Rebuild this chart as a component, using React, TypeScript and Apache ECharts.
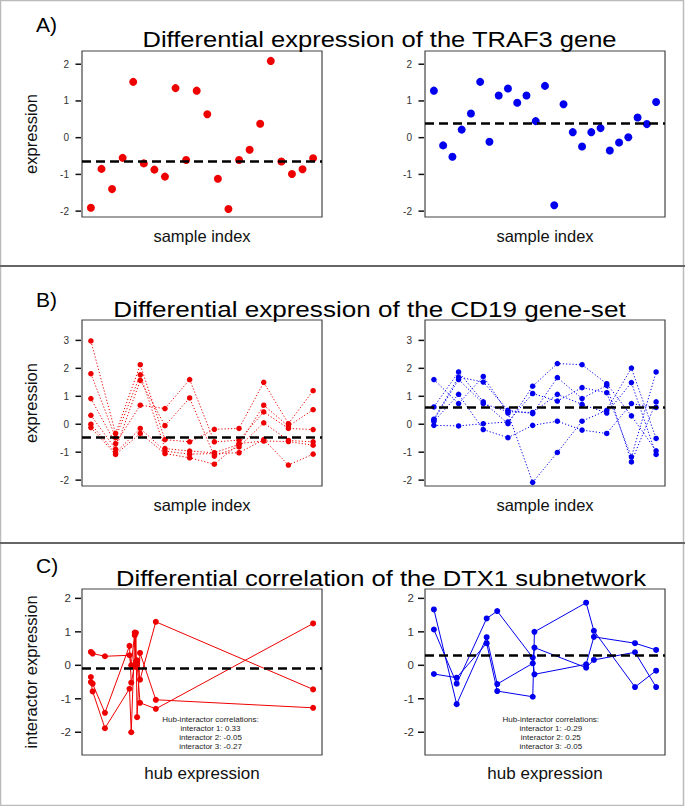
import React, { useEffect, useRef } from 'react';
import * as echarts from 'echarts';

// ---- Panel A: TRAF3 gene expression (normal / tumour) ----
const traf3Left = [-1.91, -0.85, -1.4, -0.55, 1.52, -0.7, -0.87, -1.06, 1.35, -0.61, 1.28, 0.64, -1.12, -1.94, -0.61, -0.33, 0.38, 2.09, -0.65, -0.99, -0.86, -0.56];
const traf3Right = [1.28, -0.21, -0.52, 0.22, 0.66, 1.52, -0.11, 1.15, 1.34, 0.95, 1.15, 0.45, 1.41, -1.84, 0.91, 0.15, -0.24, 0.15, 0.26, -0.35, -0.13, 0.01, 0.55, 0.37, 0.97];
const traf3Means = [-0.63, 0.38];

// ---- Panel B: CD19 gene-set (6 genes x 10 samples) ----
const cd19Left = [
  [2.98, -0.33, 2.13, -0.55, -0.63, -0.18, -0.15, 1.5, 0.02, 1.2],
  [1.81, -0.48, 1.77, -0.87, -0.96, -1.02, -0.72, 0.68, -0.07, 0.52],
  [0.92, -0.69, 0.68, 0.56, 1.6, -0.63, -0.57, 0.44, -0.15, -0.19],
  [0.32, -0.89, 1.57, -0.05, 0.94, -1.14, -0.81, 0.05, -0.58, -0.63],
  [0.0, -1.02, -0.15, -0.96, -1.07, -1.05, -1.02, -0.55, -1.46, -1.07],
  [-0.12, -1.08, -0.33, -1.05, -1.2, -1.43, -0.69, -0.6, -0.62, -0.75],
];
const cd19Right = [
  [1.6, 0.74, 1.71, 0.4, -2.08, -1.01, 0.11, 0.5, 2.01, -0.51],
  [0.62, 1.87, 0.8, 0.02, 1.36, 2.17, 2.13, 1.45, 0.3, -0.95],
  [0.18, 1.69, 1.51, 0.5, 0.38, 1.67, 0.92, 1.39, -1.35, 0.8],
  [0.1, 1.07, -0.19, -0.48, -0.04, 0.11, -0.21, -0.33, 0.74, 0.6],
  [-0.04, -0.06, 0.02, 0.08, 1.1, 0.83, 1.31, 1.13, -1.17, 1.87],
  [0.15, 1.6, 0.74, 0.45, 0.42, 1.07, 0.71, 0.4, 1.49, -1.08],
];
const cd19Means = [-0.48, 0.62];

// ---- Panel C: DTX1 subnetwork (hub vs 3 interactors) ----
const dtx1HubLeft = [-1.2, -1.17, -0.96, -0.54, -0.51, -0.45, -0.43, -0.41, -0.36, -0.09, 2.6];
const dtx1InterLeft = [
  [0.4, 0.35, 0.27, 0.3, 0.0, 0.98, 0.1, 0.15, -0.43, 1.3, -0.72],
  [-0.35, -0.55, -1.42, 0.58, -0.52, 0.02, 0.97, -1.55, 0.37, -1.03, -1.27],
  [-0.5, -0.78, -1.88, -0.7, -2.0, 0.9, -0.05, 0.05, -1.12, -1.3, 1.25],
];
const dtx1HubRight = [-1.0, -0.59, -0.05, 0.14, 0.78, 0.81, 1.74, 1.88, 2.62, 3.0];
const dtx1InterRight = [
  [1.67, -1.16, 0.84, -0.56, 0.06, 0.53, -0.07, 0.16, 0.39, -0.65],
  [1.07, -0.55, 1.4, 1.62, 0.23, -0.27, 0.03, 0.85, 0.66, 0.46],
  [-0.26, -0.37, 0.66, -0.77, -0.94, 1.0, 1.87, 1.03, -0.65, -0.16],
];
const dtx1Means = [-0.09, 0.31];
const corrLeft = ['0.33', '-0.05', '-0.27'];
const corrRight = ['-0.29', '0.25', '-0.05'];

// ---- axes ----
const yTicksA = [-2, -1, 0, 1, 2];
const yTicksB = [-2, -1, 0, 1, 2, 3];
const yTicksC = [-2, -1, 0, 1, 2];
const yLimA = [-2.16, 2.36];
const yLimB = [-2.21, 3.73];
const yLimC = [-2.68, 2.28];

const titles = [
  'Differential expression of the TRAF3 gene',
  'Differential expression of the CD19 gene-set',
  'Differential correlation of the DTX1 subnetwork',
];
const panelLabels = ['A)', 'B)', 'C)'];

const RED = '#ee0000';
const BLUE = '#0000ee';
const FONT = '"Liberation Sans", Arial, Helvetica, sans-serif';

function rRange(vals: number[]) {
  const mn = Math.min(...vals);
  const mx = Math.max(...vals);
  const d = (mx - mn) * 0.04;
  return [mn - d, mx + d];
}

function markLine(mean: number) {
  return {
    silent: true,
    symbol: 'none',
    label: { show: false },
    lineStyle: { color: '#000', type: [9, 5], width: 2.5 },
    data: [{ yAxis: mean }],
  };
}

export default function App() {
  const ref = useRef<HTMLDivElement>(null);
  useEffect(() => {
    if (!ref.current) return;
    const chart = echarts.init(ref.current, null, { renderer: 'svg' });

    const gridPos = [
      [82, 51], [425, 51],
      [82, 320], [425, 320],
      [82, 589], [425, 589],
    ];
    const grid = gridPos.map(([l, t]) => ({
      left: l, top: t, width: 240, height: 166,
      show: true, borderColor: '#444', borderWidth: 1.2,
    }));

    const xRanges = [
      rRange(traf3Left.map((_, i) => i + 1)),
      rRange(traf3Right.map((_, i) => i + 1)),
      rRange(cd19Left[0].map((_, i) => i + 1)),
      rRange(cd19Right[0].map((_, i) => i + 1)),
      rRange(dtx1HubLeft),
      rRange(dtx1HubRight),
    ];
    const xNames = ['sample index', 'sample index', 'sample index', 'sample index', 'hub expression', 'hub expression'];
    const xAxis = xRanges.map((r, i) => ({
      type: 'value', gridIndex: i, min: r[0], max: r[1], position: 'bottom',
      axisLine: { show: false, onZero: false }, axisTick: { show: false }, axisLabel: { show: false }, splitLine: { show: false },
      name: xNames[i], nameLocation: 'middle', nameGap: 10,
      nameTextStyle: { fontSize: i >= 4 ? 17 : 16.5, color: '#111', fontFamily: FONT },
    }));

    const yLims = [yLimA, yLimA, yLimB, yLimB, yLimC, yLimC];
    const yTicks = [yTicksA, yTicksA, yTicksB, yTicksB, yTicksC, yTicksC];
    const yNames = ['expression', '', 'expression', '', 'interactor expression', ''];
    const yAxis = yLims.map((lim, i) => ({
      type: 'value', gridIndex: i, min: lim[0], max: lim[1], position: 'left',
      axisLine: { show: false, onZero: false },
      splitLine: { show: false },
      axisTick: { show: false },
      axisLabel: { customValues: yTicks[i], fontSize: i >= 4 ? 11.5 : 10, color: '#333', margin: i >= 4 ? 11 : 13, fontFamily: FONT },
      name: yNames[i], nameLocation: 'middle', nameRotate: 90, nameGap: 43,
      nameTextStyle: { fontSize: 16.5, color: '#111', fontFamily: FONT },
    }));

    const series: any[] = [];
    // y-axis tick marks (R style, just outside the box), positioned through the axis scales
    yTicks.forEach((ticks, i) => {
      const tl = i >= 4 ? 6 : 5.5;
      series.push({
        type: 'custom', xAxisIndex: i, yAxisIndex: i, clip: false,
        data: ticks.map((v) => [xRanges[i][0], v]),
        renderItem: (params: any, api: any) => {
          const p = api.coord([api.value(0), api.value(1)]);
          return {
            type: 'line',
            shape: { x1: p[0] - 1 - tl, y1: p[1], x2: p[0] - 1, y2: p[1] },
            style: { stroke: '#111', lineWidth: 1.5 },
          };
        },
      });
    });
    // A
    [traf3Left, traf3Right].forEach((vals, k) => {
      series.push({
        type: 'scatter', xAxisIndex: k, yAxisIndex: k,
        data: vals.map((v, i) => [i + 1, v]),
        symbolSize: 8, itemStyle: { color: k === 0 ? RED : BLUE, opacity: 1 },
        markLine: markLine(traf3Means[k]),
      });
    });
    // B
    [cd19Left, cd19Right].forEach((genes, k) => {
      genes.forEach((g, gi) => {
        const s: any = {
          type: 'line', xAxisIndex: 2 + k, yAxisIndex: 2 + k,
          data: g.map((v, i) => [i + 1, v]),
          symbol: 'circle', symbolSize: 5.5, showSymbol: true,
          itemStyle: { color: k === 0 ? RED : BLUE },
          lineStyle: { color: k === 0 ? RED : BLUE, width: 1, type: [1.2, 2] },
        };
        if (gi === 0) s.markLine = markLine(cd19Means[k]);
        series.push(s);
      });
    });
    // C
    [[dtx1HubLeft, dtx1InterLeft], [dtx1HubRight, dtx1InterRight]].forEach(([hub, inters]: any, k) => {
      (inters as number[][]).forEach((iv, ii) => {
        const s: any = {
          type: 'line', xAxisIndex: 4 + k, yAxisIndex: 4 + k,
          data: (hub as number[]).map((h, i) => [h, iv[i]]),
          symbol: 'circle', symbolSize: 6, showSymbol: true,
          itemStyle: { color: k === 0 ? RED : BLUE },
          lineStyle: { color: k === 0 ? RED : BLUE, width: 1 },
        };
        if (ii === 0) s.markLine = markLine(dtx1Means[k]);
        series.push(s);
      });
    });

    const titlePos = [[379.5, 39.3], [369.5, 309], [381, 578.3]];
    const labelPos = [[36, 24.7], [36, 299.4], [36, 565]];
    const scales = [1.16, 1.185, 1.163];
    const graphic: any[] = [
      { type: 'rect', z: -10, shape: { x: 0.5, y: 0.5, width: 683, height: 805 }, style: { fill: 'transparent', stroke: '#bbb', lineWidth: 1.5 }, silent: true },
      { type: 'line', shape: { x1: 0, y1: 266, x2: 685, y2: 266 }, style: { stroke: '#666', lineWidth: 2 }, silent: true },
      { type: 'line', shape: { x1: 0, y1: 543, x2: 685, y2: 543 }, style: { stroke: '#666', lineWidth: 2 }, silent: true },
    ];
    titles.forEach((t, i) => {
      graphic.push({
        type: 'text', x: titlePos[i][0], y: titlePos[i][1], scaleX: scales[i],
        style: { text: t, font: `22px ${FONT}`, fill: '#000', align: 'center', verticalAlign: 'middle', textAlign: 'center', textVerticalAlign: 'middle' },
      });
    });
    panelLabels.forEach((t, i) => {
      graphic.push({
        type: 'text', x: labelPos[i][0], y: labelPos[i][1],
        style: { text: t, font: `21px ${FONT}`, fill: '#000', align: 'left', verticalAlign: 'middle', textAlign: 'left', textVerticalAlign: 'middle' },
      });
    });
    [[210.5, corrLeft], [550.8, corrRight]].forEach(([cx, corr]: any) => {
      const lines = ['Hub-interactor correlations:', ...(corr as string[]).map((c, j) => `interactor ${j + 1}: ${c}`)];
      lines.forEach((ln, j) => {
        graphic.push({
          type: 'text', x: cx, y: 719 + j * 9,
          style: { text: ln, font: `8px ${FONT}`, fill: '#222', align: 'center', verticalAlign: 'middle', textAlign: 'center', textVerticalAlign: 'middle' },
        });
      });
    });

    chart.setOption({
      animation: false,
      backgroundColor: '#fff',
      textStyle: { fontFamily: FONT },
      grid, xAxis, yAxis, series, graphic,
    });
    return () => chart.dispose();
  }, []);
  return <div ref={ref} style={{ position: 'absolute', left: 0, top: 0, width: 685, height: 806 }} />;
}
